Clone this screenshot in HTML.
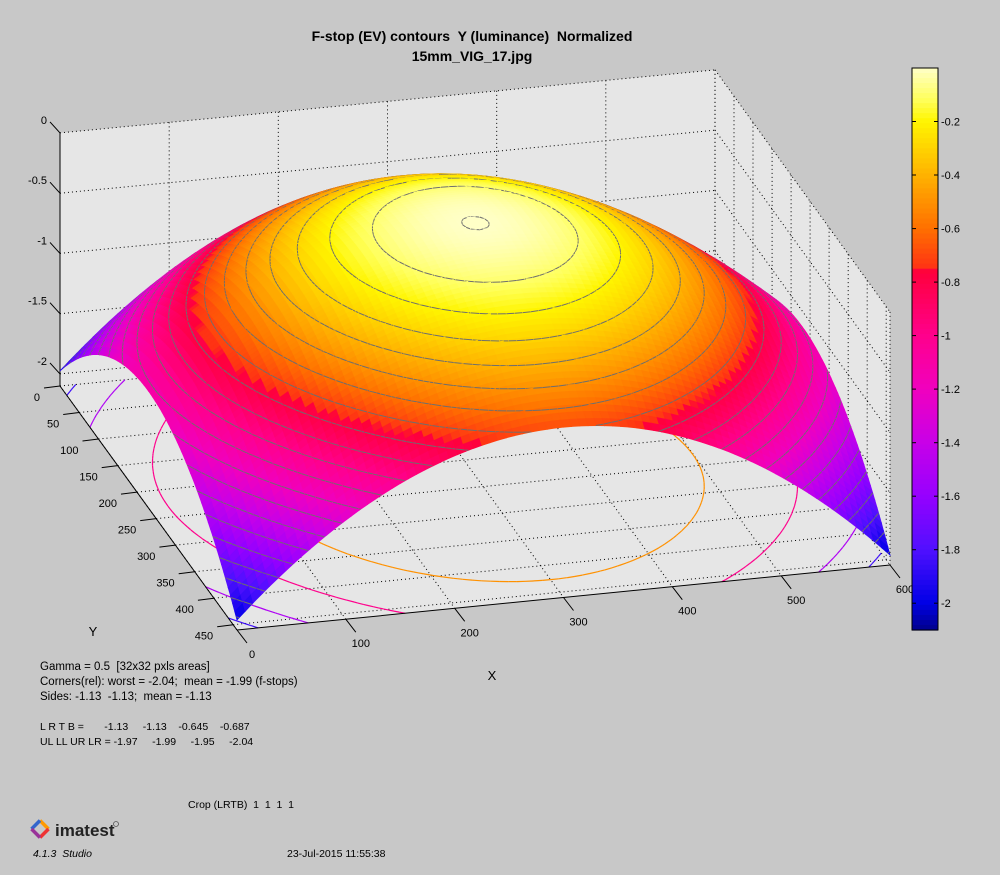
<!DOCTYPE html>
<html><head><meta charset="utf-8"><style>
body{margin:0;background:#c8c8c8;}
svg{display:block;font-family:"Liberation Sans",sans-serif;}
text{white-space:pre;}
</style></head><body>
<svg id="s" width="1000" height="875" viewBox="0 0 1000 875" xmlns="http://www.w3.org/2000/svg">
<rect width="1000" height="875" fill="#c8c8c8"/>
<g id="g"></g>
<text x="472" y="41" font-size="14" font-weight="bold" text-anchor="middle">F-stop (EV) contours  Y (luminance)  Normalized</text>
<text x="472" y="61" font-size="14" font-weight="bold" text-anchor="middle">15mm_VIG_17.jpg</text>
<text x="492" y="680" font-size="13" text-anchor="middle">X</text>
<text x="93" y="636" font-size="13" text-anchor="middle">Y</text>
<g font-size="11.5">
<text x="40" y="670">Gamma = 0.5  [32x32 pxls areas]</text>
<text x="40" y="685">Corners(rel): worst = -2.04;  mean = -1.99 (f-stops)</text>
<text x="40" y="700">Sides: -1.13  -1.13;  mean = -1.13</text>
<text x="40" y="730" font-size="10.5">L R T B =       -1.13     -1.13    -0.645    -0.687</text>
<text x="40" y="745" font-size="10.5">UL LL UR LR = -1.97     -1.99     -1.95     -2.04</text>
<text x="188" y="808" font-size="10.5">Crop (LRTB)  1  1  1  1</text>
<text x="33" y="857" font-size="10.5" font-style="italic">4.1.3  Studio</text>
<text x="287" y="857" font-size="10.5">23-Jul-2015 11:55:38</text>
</g>
<g transform="translate(40,829) rotate(45)">
<path d="M-6,-6 L6,-6" stroke="#f90" stroke-width="3.5"/><path d="M6,-6 L6,6" stroke="#e33" stroke-width="3.5"/>
<path d="M-6,6 L-6,-6" stroke="#36c" stroke-width="3.5"/><path d="M-6,6 L6,6" stroke="#939" stroke-width="3.5"/>
</g>
<text x="55" y="836" font-size="17" font-weight="bold" fill="#222">imatest</text>
<circle cx="116" cy="824" r="2.5" fill="none" stroke="#555" stroke-width="0.8"/>
</svg>
<script>
(function(){
function P(x,y,z){var s=x/600,t=y/460;
var fx=(1-s)*(1-t)*60+s*(1-t)*715+(1-s)*t*237+s*t*890;
var fy=(1-s)*(1-t)*386+s*(1-t)*323+(1-s)*t*630+s*t*565;
return [fx,fy-(z+2.1)*120.5];}
function Z(x,y){var u=(x-300)/300,v=(y-230)/230;return -(1.13*u*u+(y<230?0.645:0.687)*v*v+0.2*u*u*v*v);}
var st=[[0,255,255,200],[-0.12,255,255,90],[-0.2,255,245,0],[-0.4,255,178,0],[-0.6,255,112,0],[-0.75,255,50,20],[-0.76,255,0,60],[-1,255,0,140],[-1.2,240,0,190],[-1.4,200,0,232],[-1.6,150,0,255],[-1.8,80,16,255],[-2,0,0,230],[-2.1,0,0,140]];
function C(z){if(z>=0)z=0;for(var i=0;i<st.length-1;i++){var a=st[i],b=st[i+1];if(z<=a[0]&&z>=b[0]){var f=(a[0]-z)/(a[0]-b[0]);return 'rgb('+Math.round(a[1]+f*(b[1]-a[1]))+','+Math.round(a[2]+f*(b[2]-a[2]))+','+Math.round(a[3]+f*(b[3]-a[3]))+')';}}return 'rgb(0,0,140)';}
function pt(p){return p[0].toFixed(1)+','+p[1].toFixed(1);}
var h='';var B=-2.1;
function poly(ps,fill,stroke){h+='<polygon points="'+ps.map(pt).join(' ')+'" fill="'+fill+'" stroke="'+stroke+'" stroke-width="0.8"/>';}
function ln(a,b,stk,w,da){h+='<line x1="'+a[0].toFixed(1)+'" y1="'+a[1].toFixed(1)+'" x2="'+b[0].toFixed(1)+'" y2="'+b[1].toFixed(1)+'" stroke="'+stk+'" stroke-width="'+w+'"'+(da?' stroke-dasharray="'+da+'"':'')+'/>';}
poly([P(0,0,0),P(600,0,0),P(600,0,B),P(0,0,B)],'#e6e6e6','none');
poly([P(600,0,0),P(600,460,0),P(600,460,B),P(600,0,B)],'#e6e6e6','none');
poly([P(0,0,B),P(600,0,B),P(600,460,B),P(0,460,B)],'#e6e6e6','none');
var D='1,3';var x,y,z,a;
for(x=0;x<=600;x+=100){ln(P(x,0,0),P(x,0,B),'#000',1,D);ln(P(x,0,B),P(x,460,B),'#000',1,D);}
for(y=0;y<=450;y+=50){ln(P(600,y,0),P(600,y,B),'#000',1,D);ln(P(0,y,B),P(600,y,B),'#000',1,D);}
ln(P(600,460,0),P(600,460,B),'#000',1,D);
for(z=0;z>=-2;z-=0.5){ln(P(0,0,z),P(600,0,z),'#000',1,D);ln(P(600,0,z),P(600,460,z),'#000',1,D);}
var N=80,dx=600/N,dy=460/N;
function ms(i,j,L){var x0=i*dx,y0=j*dy,x1=x0+dx,y1=y0+dy;var c=[[x0,y0,Z(x0,y0)],[x1,y0,Z(x1,y0)],[x1,y1,Z(x1,y1)],[x0,y1,Z(x0,y1)]];var pts=[];
for(var k=0;k<4;k++){var a=c[k],b=c[(k+1)%4];if((a[2]-L)*(b[2]-L)<0){var f=(L-a[2])/(b[2]-a[2]);pts.push([a[0]+f*(b[0]-a[0]),a[1]+f*(b[1]-a[1])]);}}
var r=[];for(var k2=0;k2+1<pts.length;k2+=2)r.push([pts[k2],pts[k2+1]]);return r;}
[-0.5,-1.0,-1.5,-1.85].forEach(function(L){for(var j=0;j<N;j++)for(var i=0;i<N;i++){ms(i,j,L).forEach(function(s){ln(P(s[0][0],s[0][1],B),P(s[1][0],s[1][1],B),C(L),1.2);});}});
ln(P(0,0,0),P(0,0,B),'#000',1);ln(P(0,0,B),P(0,460,B),'#000',1);ln(P(0,460,B),P(600,460,B),'#000',1);
var T='';
for(z=0;z>=-2;z-=0.5){a=P(0,0,z);ln(a,[a[0]-10,a[1]-11],'#000',1);T+='<text x="'+(a[0]-13)+'" y="'+(a[1]-9)+'" font-size="11" text-anchor="end">'+(z==0?'0':z)+'</text>';}
for(y=0;y<=450;y+=50){a=P(0,y,B);ln(a,[a[0]-16,a[1]+2],'#000',1);T+='<text x="'+(a[0]-20)+'" y="'+(a[1]+15)+'" font-size="11" text-anchor="end">'+y+'</text>';}
for(x=0;x<=600;x+=100){a=P(x,460,B);ln(a,[a[0]+10,a[1]+13],'#000',1);T+='<text x="'+(a[0]+15)+'" y="'+(a[1]+28)+'" font-size="11" text-anchor="middle">'+x+'</text>';}
var levels=[-0.002];for(var L=-0.1;L>-2.05;L-=0.1)levels.push(Math.round(L*100)/100);
for(var j=0;j<N;j++)for(var i=0;i<N;i++){var x0=i*dx,y0=j*dy,x1=x0+dx,y1=y0+dy;
var za=Z(x0,y0),zb=Z(x1,y0),zc=Z(x1,y1),zd=Z(x0,y1);var col=C((za+zb+zc+zd)/4);
poly([P(x0,y0,za),P(x1,y0,zb),P(x1,y1,zc),P(x0,y1,zd)],col,col);
(function(ii,jj){levels.forEach(function(L){ms(ii,jj,L).forEach(function(s){ln(P(s[0][0],s[0][1],L),P(s[1][0],s[1][1],L),'#6e6e6e',1);});});})(i,j);}
h+=T;
var cbTop=68,cbBot=630,n=112;for(var k=0;k<n;k++){var zz=-(k+0.5)/n*2.1;var yy=cbTop+k*(cbBot-cbTop)/n;h+='<rect x="912" y="'+yy.toFixed(2)+'" width="26" height="'+((cbBot-cbTop)/n+0.6).toFixed(2)+'" fill="'+C(zz)+'"/>';}
h+='<rect x="912" y="68" width="26" height="562" fill="none" stroke="#000"/>';
for(var v=-0.2;v>=-2.05;v-=0.2){var yv=cbTop+(-v)/2.1*(cbBot-cbTop);var lab=(Math.round(v*10)/10).toString();ln([912,yv],[916,yv],'#000',1);ln([934,yv],[938,yv],'#000',1);h+='<text x="941" y="'+(yv+4)+'" font-size="11">'+lab+'</text>';}
document.getElementById('g').innerHTML=h;
})();
</script>
</body></html>
